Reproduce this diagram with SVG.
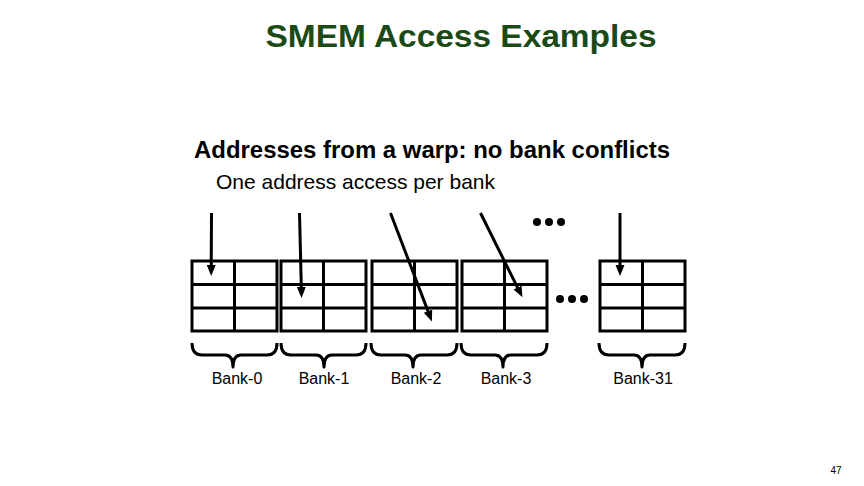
<svg xmlns="http://www.w3.org/2000/svg" width="864" height="486" viewBox="0 0 864 486">
<defs>
<style>
.grid{fill:none;stroke:#000;stroke-width:3}
.arr{stroke:#000;stroke-width:3;fill:none;marker-end:url(#ah)}
.brace{fill:none;stroke:#000;stroke-width:3;stroke-linejoin:round}
.lbl{font-family:"Liberation Sans",Arial,sans-serif;font-size:16px;fill:#000;text-anchor:middle}
.dot{fill:#000}
</style>
<marker id="ah" markerUnits="userSpaceOnUse" markerWidth="11" markerHeight="10" refX="4" refY="5" orient="auto" viewBox="0 0 11 10">
<path d="M0,0.5 L11,5 L0,9.5 z" fill="#000"/>
</marker>
<g id="bankgrid">
<rect class="grid" x="0" y="0" width="85" height="70"/>
<line class="grid" x1="42.5" y1="0" x2="42.5" y2="70"/>
<line class="grid" x1="0" y1="23.5" x2="85" y2="23.5"/>
<line class="grid" x1="0" y1="47" x2="85" y2="47"/>
</g>
</defs>
<rect width="864" height="486" fill="#fff"/>
<text x="461" y="47" font-family="'Liberation Sans',Arial,sans-serif" font-weight="bold" font-size="31" fill="#1c4a17" text-anchor="middle" textLength="391" lengthAdjust="spacingAndGlyphs">SMEM Access Examples</text>
<text x="194" y="158" font-family="'Liberation Sans',Arial,sans-serif" font-weight="bold" font-size="23" fill="#000" textLength="476" lengthAdjust="spacingAndGlyphs">Addresses from a warp: no bank conflicts</text>
<text x="216" y="189" font-family="'Liberation Sans',Arial,sans-serif" font-size="21" fill="#000" textLength="279" lengthAdjust="spacingAndGlyphs">One address access per bank</text>

<g id="bank-0"><use href="#bankgrid" x="192" y="261"/><path class="brace" d="M192,343 Q192,355 202,355 L225,355 Q233,355 233,367 Q233,355 241,355 L267,355 Q277,355 277,343"/><text class="lbl" x="237" y="384">Bank-0</text></g>
<g id="bank-1"><use href="#bankgrid" x="281" y="261"/><path class="brace" d="M281,343 Q281,355 291,355 L316,355 Q324,355 324,367 Q324,355 332,355 L356,355 Q366,355 366,343"/><text class="lbl" x="324" y="384">Bank-1</text></g>
<g id="bank-2"><use href="#bankgrid" x="372" y="261"/><path class="brace" d="M371,343 Q371,355 381,355 L405,355 Q413,355 413,367 Q413,355 421,355 L447,355 Q457,355 457,343"/><text class="lbl" x="416" y="384">Bank-2</text></g>
<g id="bank-3"><use href="#bankgrid" x="462" y="261"/><path class="brace" d="M461,343 Q461,355 471,355 L495,355 Q503,355 503,367 Q503,355 511,355 L537,355 Q547,355 547,343"/><text class="lbl" x="506" y="384">Bank-3</text></g>
<g id="bank-31"><use href="#bankgrid" x="600" y="261"/><path class="brace" d="M599,343 Q599,355 609,355 L634,355 Q642,355 642,367 Q642,355 650,355 L675,355 Q685,355 685,343"/><text class="lbl" x="643" y="384">Bank-31</text></g>

<g id="ellipsis-top"><circle class="dot" cx="537" cy="222" r="4"/><circle class="dot" cx="549" cy="222" r="4"/><circle class="dot" cx="561" cy="222" r="4"/></g>
<g id="ellipsis-mid"><circle class="dot" cx="560" cy="299" r="4"/><circle class="dot" cx="572" cy="299" r="4"/><circle class="dot" cx="584" cy="299" r="4"/></g>

<g id="connectors">
<line class="arr" x1="211.5" y1="213" x2="211.2" y2="269"/>
<line class="arr" x1="299.5" y1="213" x2="301.4" y2="291"/>
<line class="arr" x1="390.5" y1="213" x2="429.4" y2="314.9"/>
<line class="arr" x1="480.5" y1="213" x2="519.3" y2="291.1"/>
<line class="arr" x1="620" y1="213" x2="620" y2="269"/>
</g>
<text x="836" y="474" font-family="'Liberation Sans',Arial,sans-serif" font-size="10" fill="#000" text-anchor="middle">47</text>
</svg>
